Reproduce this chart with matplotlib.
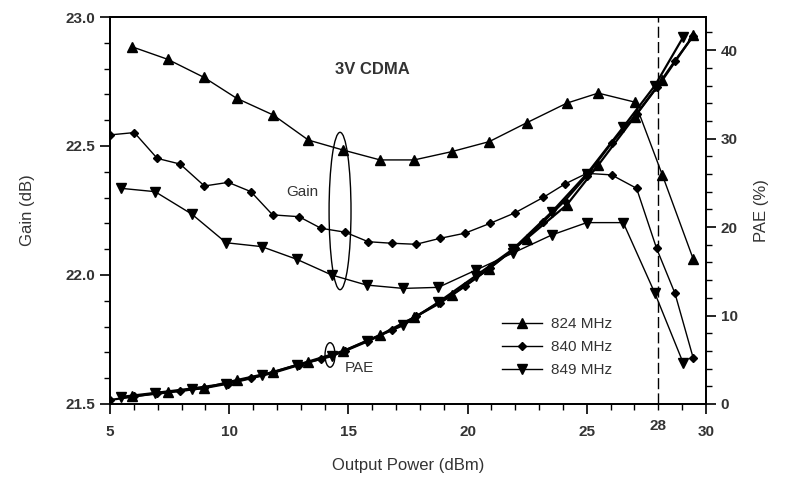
import matplotlib
matplotlib.use("Agg")
import matplotlib.pyplot as plt
from matplotlib.patches import Ellipse
from matplotlib.ticker import MultipleLocator, FormatStrFormatter

plt.rcParams['font.family'] = ['Liberation Sans', 'DejaVu Sans']

# gain curves (dB) and PAE (%) vs output power (dBm)
x_824 = [5.91, 7.42, 8.94, 10.31, 11.85, 13.32, 14.79, 16.33, 17.76, 19.33,
         20.91, 22.48, 24.16, 25.48, 27.02, 28.17, 29.47]
gain_824 = [22.885, 22.836, 22.766, 22.685, 22.62, 22.523, 22.484, 22.446, 22.446,
            22.478, 22.517, 22.59, 22.666, 22.705, 22.67, 22.388, 22.061]
pae_824 = [0.85, 1.3, 1.8, 2.7, 3.6, 4.8, 6.0, 7.8, 9.8, 12.3, 15.3, 18.7, 22.5,
           27.0, 32.5, 36.6, 41.7]

x_840 = [5.0, 6.02, 6.98, 7.94, 8.96, 9.96, 10.91, 11.82, 12.93, 13.85, 14.86,
         15.83, 16.82, 17.84, 18.84, 19.89, 20.94, 21.99, 23.18, 24.09, 25.0,
         26.04, 27.09, 27.93, 28.7, 29.47]
gain_840 = [22.543, 22.552, 22.452, 22.43, 22.345, 22.359, 22.323, 22.233, 22.226,
            22.181, 22.166, 22.129, 22.123, 22.119, 22.142, 22.162, 22.2, 22.241,
            22.301, 22.353, 22.394, 22.388, 22.336, 22.103, 21.929, 21.677]
pae_840 = [0.45, 0.85, 1.25, 1.5, 1.8, 2.3, 2.9, 3.5, 4.4, 5.1, 6.0, 7.1, 8.4, 9.9,
           11.4, 13.3, 15.4, 17.6, 20.6, 23.0, 25.8, 29.5, 32.8, 35.8, 38.8, 41.6]

x_849 = [5.45, 6.89, 8.43, 9.87, 11.36, 12.83, 14.3, 15.76, 17.3, 18.77, 20.35,
         21.9, 23.53, 25.0, 26.53, 27.86, 29.05]
gain_849 = [22.336, 22.323, 22.236, 22.125, 22.11, 22.061, 22.0, 21.961, 21.948,
            21.952, 22.019, 22.085, 22.155, 22.203, 22.203, 21.929, 21.658]
pae_849 = [0.8, 1.25, 1.75, 2.3, 3.25, 4.4, 5.4, 7.1, 8.9, 11.5, 14.5, 17.5, 21.7,
           26.0, 31.3, 36.0, 41.5]

labels = ['824 MHz', '840 MHz', '849 MHz']
markers = ['^', 'D', 'v']
msizes = [6.5, 4.5, 6.5]

fig = plt.figure(figsize=(7.87, 4.83), dpi=100)
ax = fig.add_axes([0.1398, 0.1636, 0.7572, 0.8012])
ax2 = ax.twinx()

series = [(x_824, gain_824, pae_824), (x_840, gain_840, pae_840),
          (x_849, gain_849, pae_849)]
for (xs, g, p), lab, m, ms in zip(series, labels, markers, msizes):
    ax.plot(xs, g, color='black', lw=1.0, marker=m, ms=ms, label=lab)
    ax2.plot(xs, p, color='black', lw=1.6, marker=m, ms=ms)

ax.set_xlim(5, 30)
ax.set_ylim(21.5, 23.0)
ax2.set_ylim(0, 43.75)

ax.axvline(28, color='black', lw=1.0, dashes=(8, 3))

ax.xaxis.set_major_locator(MultipleLocator(5))
ax.xaxis.set_minor_locator(MultipleLocator(1))
ax.yaxis.set_major_locator(MultipleLocator(0.5))
ax.yaxis.set_minor_locator(MultipleLocator(0.1))
ax.yaxis.set_major_formatter(FormatStrFormatter('%.1f'))
ax2.yaxis.set_major_locator(MultipleLocator(10))
ax2.yaxis.set_minor_locator(MultipleLocator(2))

tc = '#333333'
for a in (ax, ax2):
    a.tick_params(which='major', direction='out', length=7, width=1.2,
                  labelsize=11, labelcolor=tc)
    a.tick_params(which='minor', direction='out', length=4, width=1.0)
    for s in a.spines.values():
        s.set_linewidth(1.3)
ax.tick_params(axis='x', pad=8)
for lab in ax.get_xticklabels() + ax.get_yticklabels() + ax2.get_yticklabels():
    lab.set_fontweight('bold')

# extra "28" label under the dashed line, sitting a little higher
ax.text(28, 21.44, '28', ha='center', va='top', fontsize=11, color=tc,
        fontweight='bold')

ax.set_xlabel('Output Power (dBm)', fontsize=12, color=tc, labelpad=14)
ax.set_ylabel('Gain (dB)', fontsize=12, color=tc, labelpad=22)
ax2.set_ylabel('PAE (%)', fontsize=12, color=tc, labelpad=12)

ax.text(16.0, 22.795, '3V CDMA', fontsize=12, fontweight='bold', color=tc,
        ha='center', va='center')
ax.text(13.05, 22.32, 'Gain', fontsize=11, color=tc, ha='center', va='center')
ax.text(14.85, 21.64, 'PAE', fontsize=11, color=tc, ha='left', va='center')
ax.add_patch(Ellipse((14.65, 22.248), 0.92, 0.61, fill=False, lw=1.0,
                     color='black'))
ax.add_patch(Ellipse((14.23, 21.69), 0.42, 0.095, fill=False, lw=1.0,
                     color='black'))

leg = ax.legend(loc='upper left', bbox_to_anchor=(0.635, 0.26), frameon=False,
                handlelength=2.6, fontsize=11, labelspacing=0.6,
                handletextpad=0.6)
for t in leg.get_texts():
    t.set_color(tc)

fig.savefig('out.png', dpi=100)
